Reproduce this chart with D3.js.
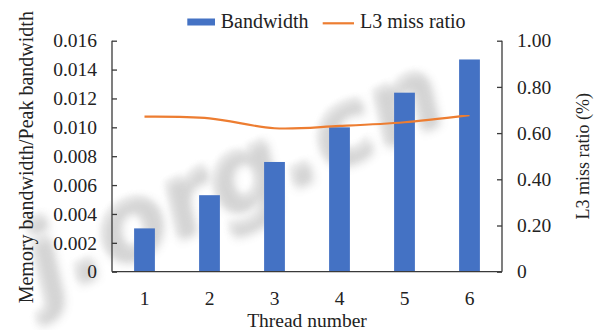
<!DOCTYPE html>
<html>
<head>
<meta charset="utf-8">
<script src="https://cdn.jsdelivr.net/npm/d3@7"></script>
<style>
  html, body { margin: 0; padding: 0; background: #fff; }
</style>
</head>
<body>
<svg id="chart" width="595" height="330"></svg>
<script>
// Thread count vs. normalised memory bandwidth and L3 miss ratio
const threads = ["1", "2", "3", "4", "5", "6"];
const bandwidth = [0.0030, 0.0053, 0.0076, 0.0100, 0.0124, 0.0147];
const l3MissRatio = [0.671, 0.664, 0.621, 0.631, 0.647, 0.678];
const leftTicks = [0, 0.002, 0.004, 0.006, 0.008, 0.010, 0.012, 0.014, 0.016];
const rightTicks = [0, 0.2, 0.4, 0.6, 0.8, 1.0];
const seriesNames = ["Bandwidth", "L3 miss ratio"];
const watermark = "j.org.cn";

const serif = "'Times New Roman', Tinos, 'Liberation Serif', 'DejaVu Serif', 'Noto Serif', Times, serif";

const svg = d3.select("#chart");
const W = 595, H = 330;
const m = { left: 112, right: 93, top: 40.7, bottom: 58.3 };
const x0 = m.left, x1 = W - m.right, y0 = H - m.bottom, y1 = m.top;

const axisColor = "#3a3a3a";
const textColor = "#222";
const barColor = "#4472c4";
const lineColor = "#ed7d31";
const fs = 19.5;

// soft shadowed site mark behind the plot: a darker blurred shadow under a paler face
const defs = svg.append("defs");
defs.append("filter").attr("id", "soft").attr("x", "-20%").attr("y", "-20%").attr("width", "140%").attr("height", "140%")
  .append("feGaussianBlur").attr("stdDeviation", 5);
defs.append("filter").attr("id", "softer").attr("x", "-20%").attr("y", "-20%").attr("width", "140%").attr("height", "140%")
  .append("feGaussianBlur").attr("stdDeviation", 2.5);
const markText = (sel) => sel
  .style("font-family", "'DejaVu Sans', sans-serif")
  .attr("font-weight", "bold")
  .attr("font-style", "italic")
  .attr("font-size", 104)
  .text(watermark);
svg.append("text").call(markText)
  .attr("transform", "translate(44,302) rotate(-24)")
  .attr("fill", "#6a6a6a").attr("opacity", 0.3).attr("filter", "url(#soft)");
svg.append("text").call(markText)
  .attr("transform", "translate(40,298) rotate(-24)")
  .attr("fill", "#d8d8d8").attr("opacity", 0.35).attr("filter", "url(#softer)");

const x = d3.scaleBand().domain(threads).range([x0, x1]).paddingInner(0.68).paddingOuter(0.34);
const yL = d3.scaleLinear().domain([0, 0.016]).range([y0, y1]);
const yR = d3.scaleLinear().domain([0, 1]).range([y0, y1]);

// bars
svg.append("g").selectAll("rect").data(bandwidth).join("rect")
  .attr("x", (d, i) => x(threads[i]))
  .attr("width", x.bandwidth())
  .attr("y", d => yL(d))
  .attr("height", d => y0 - yL(d))
  .attr("fill", barColor);

// line
const line = d3.line()
  .x((d, i) => x(threads[i]) + x.bandwidth() / 2)
  .y(d => yR(d))
  .curve(d3.curveCatmullRom.alpha(0.5));
svg.append("path").datum(l3MissRatio)
  .attr("d", line)
  .attr("fill", "none")
  .attr("stroke", lineColor)
  .attr("stroke-width", 2.2);

// left axis
const axL = svg.append("g").attr("transform", `translate(${x0},0)`)
  .call(d3.axisRight(yL).tickValues(leftTicks).tickSize(5).tickFormat(d => d === 0 ? "0" : d3.format(".3f")(d)));
axL.selectAll("text").attr("x", -15).attr("text-anchor", "end");
// right axis
const axR = svg.append("g").attr("transform", `translate(${x1},0)`)
  .call(d3.axisLeft(yR).tickValues(rightTicks).tickSize(5).tickFormat(d => d === 0 ? "0" : d3.format(".2f")(d)));
axR.selectAll("text").attr("x", 15).attr("text-anchor", "start");
// bottom axis
const axB = svg.append("g").attr("transform", `translate(0,${y0})`)
  .call(d3.axisBottom(x).tickSize(0).tickPadding(19));

[axL, axR, axB].forEach(a => {
  a.attr("font-family", null).attr("font-size", null);
  a.select(".domain").attr("stroke", axisColor).attr("stroke-width", 1.3);
  a.selectAll(".tick line").attr("stroke", axisColor).attr("stroke-width", 1.3);
  a.selectAll("text").style("font-family", serif).attr("font-size", fs).attr("fill", textColor);
});
axL.select(".domain").attr("d", `M0,${y1}V${y0}`);
axR.select(".domain").attr("d", `M0,${y1}V${y0}`);
axB.select(".domain").attr("d", `M${x0},0H${x1}`);

// axis titles
const label = (sel) => sel.style("font-family", serif).attr("fill", textColor);
svg.append("text").call(label)
  .attr("transform", `translate(33,${(y0 + y1) / 2 + 1}) rotate(-90)`)
  .attr("text-anchor", "middle").attr("font-size", 20)
  .text("Memory bandwidth/Peak bandwidth");
svg.append("text").call(label)
  .attr("transform", `translate(589,${(y0 + y1) / 2}) rotate(-90)`)
  .attr("text-anchor", "middle").attr("font-size", 18)
  .text("L3 miss ratio (%)");
svg.append("text").call(label)
  .attr("x", (x0 + x1) / 2).attr("y", 327)
  .attr("text-anchor", "middle").attr("font-size", fs)
  .text("Thread number");

// legend
const lg = svg.append("g");
lg.append("rect").attr("x", 187.3).attr("y", 18.5).attr("width", 27.7).attr("height", 7).attr("fill", barColor);
lg.append("text").call(label).attr("x", 220.7).attr("y", 28).attr("font-size", 20).text(seriesNames[0]);
lg.append("line").attr("x1", 322.7).attr("x2", 354).attr("y1", 23.3).attr("y2", 23.3)
  .attr("stroke", lineColor).attr("stroke-width", 2.2);
lg.append("text").call(label).attr("x", 360).attr("y", 28).attr("font-size", 20).text(seriesNames[1]);
</script>
</body>
</html>
